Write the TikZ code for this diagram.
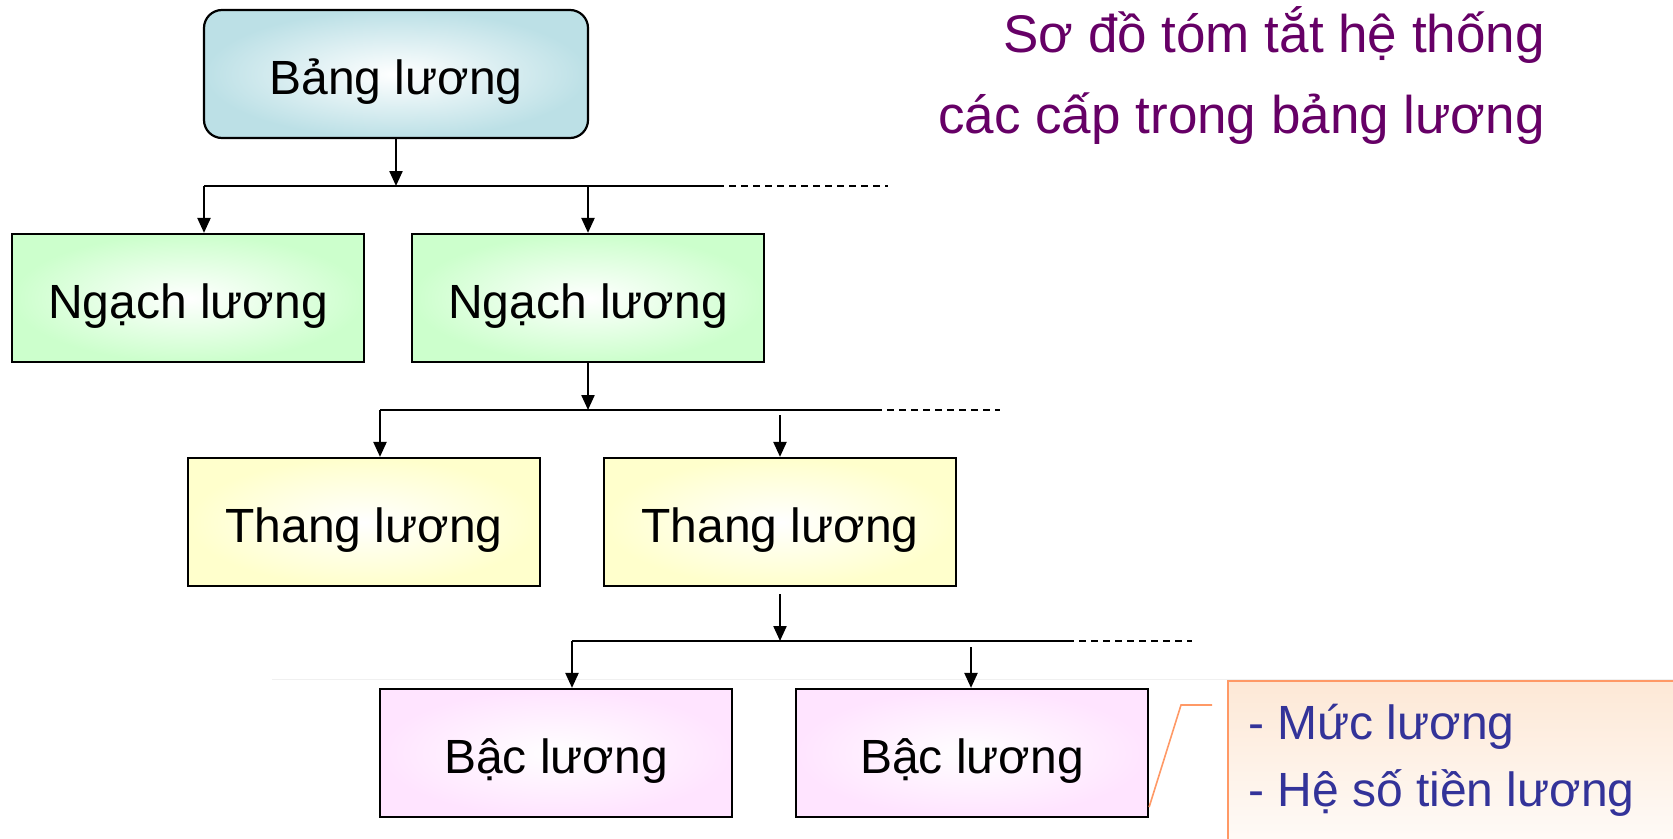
\documentclass[tikz,border=0pt]{standalone}
\usepackage{fontspec}
\setmainfont{Liberation Sans}
\usetikzlibrary{arrows.meta}

\definecolor{bangcol}{RGB}{188,224,230}
\definecolor{ngachcol}{RGB}{204,255,204}
\definecolor{thangcol}{RGB}{255,255,204}
\definecolor{baccol}{RGB}{255,228,255}
\definecolor{titlecol}{RGB}{102,0,102}
\definecolor{notecol}{RGB}{51,51,153}
\definecolor{noteline}{RGB}{255,153,102}
\definecolor{notefill}{RGB}{253,232,214}

\tikzset{
  boxtext/.style={font=\fontsize{48}{58}\selectfont,
    text height=42pt, text depth=2pt},
  levelbox/.style={boxtext, draw=black, line width=2.2pt,
    minimum width=352pt, minimum height=128pt, inner sep=0pt,
    inner color=white, outer color=#1},
  topbox/.style={levelbox=bangcol, minimum width=384pt, rounded corners=18pt},
  conn/.style={line width=2.3pt, draw=black},
  arrowconn/.style={conn, -{Triangle[length=15pt,width=13pt]}},
  dashconn/.style={line width=2pt, draw=black, dash pattern=on 7pt off 5pt},
  titletext/.style={font=\fontsize{53}{81}\selectfont, text=titlecol,
    inner sep=0pt},
  notetext/.style={font=\fontsize{48}{67}\selectfont, text=notecol,
    align=left, inner sep=0pt},
}

\begin{document}
\begin{tikzpicture}[x=1pt, y=-1pt]
\useasboundingbox (0,0) rectangle (1673,838);
\clip (0,0) rectangle (1673,838);

% faint rule across the lower part
\draw[black!6, line width=1pt] (272,679) -- (1673,679);

% title
\node[titletext, anchor=base east] (title1) at (1545,52) {Sơ đồ tóm tắt hệ thống};
\node[titletext, anchor=base east] (title2) at (1545,133) {các cấp trong bảng lương};

% boxes
\node[topbox] (bang) at (396,74) {Bảng lương};
\node[levelbox=ngachcol] (ngach1) at (188,298) {Ngạch lương};
\node[levelbox=ngachcol] (ngach2) at (588,298) {Ngạch lương};
\node[levelbox=thangcol] (thang1) at (364,522) {Thang lương};
\node[levelbox=thangcol] (thang2) at (780,522) {Thang lương};
\node[levelbox=baccol] (bac1) at (556,753) {Bậc lương};
\node[levelbox=baccol] (bac2) at (972,753) {Bậc lương};

% bus lines
\coordinate (busA) at (204,186);
\coordinate (busAend) at (717,186);
\coordinate (busAdash) at (888,186);
\coordinate (busB) at (380,410);
\coordinate (busBend) at (875,410);
\coordinate (busBdash) at (1000,410);
\coordinate (busC) at (572,641);
\coordinate (busCend) at (1067,641);
\coordinate (busCdash) at (1192,641);

\draw[conn] (busA) -- (busAend);
\draw[dashconn] (busAend) -- (busAdash);
\draw[conn] (busB) -- (busBend);
\draw[dashconn] (busBend) -- (busBdash);
\draw[conn] (busC) -- (busCend);
\draw[dashconn] (busCend) -- (busCdash);

% level 1
\draw[arrowconn] (bang.south) -- (bang.south |- busA);
\draw[arrowconn] (busA) -- (busA |- ngach1.north);
\draw[arrowconn] (ngach2.north |- busA) -- (ngach2.north);

% level 2
\draw[arrowconn] (ngach2.south) -- (ngach2.south |- busB);
\draw[arrowconn] (busB) -- (busB |- thang1.north);
\draw[arrowconn] ([yshift=-5pt]thang2.north |- busB) -- (thang2.north);

% level 3
\draw[arrowconn] ([yshift=-7pt]thang2.south) -- (thang2.south |- busC);
\draw[arrowconn] (busC) -- (busC |- bac1.north);
\coordinate (bac2in) at (971,647);
\draw[arrowconn] (bac2in) -- (bac2in |- bac2.north);

% callout
\path[draw=noteline, line width=2pt, top color=notefill, bottom color=white]
  (1228,681) rectangle (1700,880);
\node[notetext, anchor=west] (note) at (1248,760)
  {- Mức lương\\- Hệ số tiền lương};
\coordinate (bend) at (1181,705);
\coordinate (tail) at (1212,705);
\draw[noteline, line width=1.6pt] ([yshift=11pt]bac2.south east) -- (bend) -- (tail);
\end{tikzpicture}
\end{document}
